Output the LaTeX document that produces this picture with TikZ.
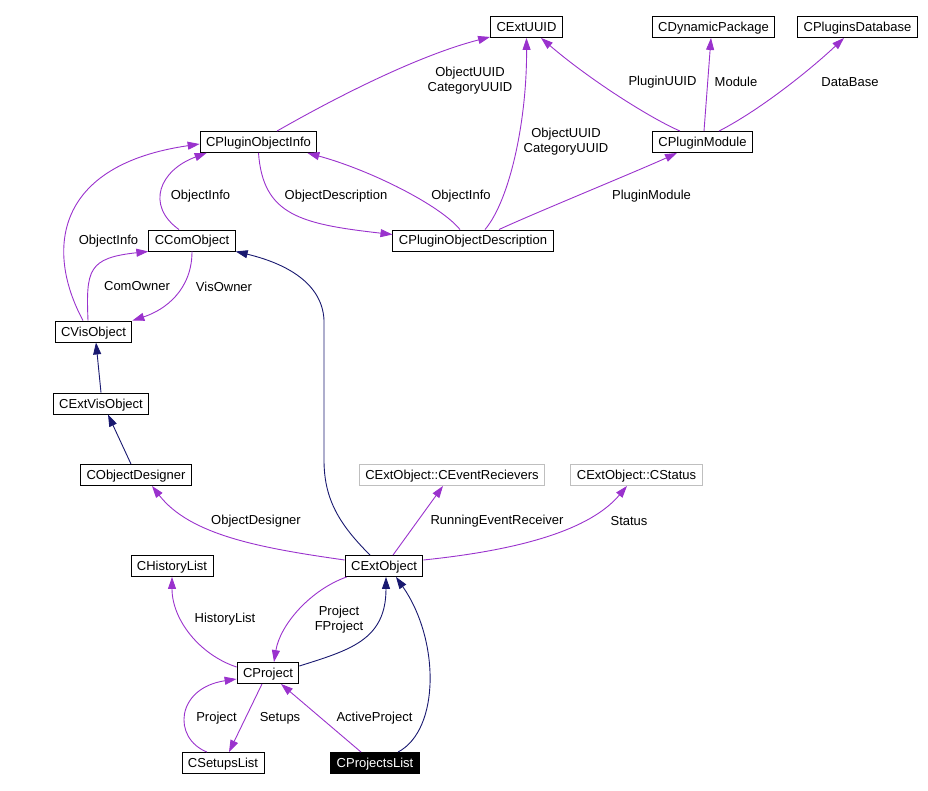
\documentclass[tikz,border=0pt]{standalone}
\usepackage{fontspec}
\setmainfont{Liberation Sans}
\usetikzlibrary{arrows.meta}
\definecolor{usecol}{HTML}{9A32CD}
\definecolor{inhcol}{HTML}{191970}
\definecolor{extcol}{HTML}{BFBFBF}

\begin{document}
\begin{tikzpicture}[x=1pt,y=-1pt,
    font=\fontsize{13}{15}\selectfont,
    cls/.style={draw=black,line width=0.9pt,minimum height=21pt,text height=11pt,text depth=2pt,inner xsep=6pt,inner ysep=0pt},
    extcls/.style={cls,draw=extcol},
    hlcls/.style={cls,fill=black,text=white},
    use/.style={draw=usecol,line width=0.9pt,-{Triangle[length=12pt,width=8pt]}},
    inh/.style={draw=inhcol,line width=0.9pt,-{Triangle[length=12pt,width=8pt]}},
    lbl/.style={align=center,inner sep=0pt}]
    \useasboundingbox (0,0) rectangle (928,791);

    \node[cls] (cextuuid) at (526.5,27) {CExtUUID};
    \node[cls] (cdynpkg) at (713.5,27) {CDynamicPackage};
    \node[cls] (cplugdb) at (857.5,27) {CPluginsDatabase};
    \node[cls] (cpoi) at (258.5,142) {CPluginObjectInfo};
    \node[cls] (cplugmod) at (702.5,142) {CPluginModule};
    \node[cls] (ccom) at (192,240.5) {CComObject};
    \node[cls] (cpod) at (473,240.5) {CPluginObjectDescription};
    \node[cls] (cvis) at (93.5,331.5) {CVisObject};
    \node[cls] (cextvis) at (101,403.5) {CExtVisObject};
    \node[cls] (cobjdes) at (136,475) {CObjectDesigner};
    \node[extcls] (cevrec) at (452,475) {CExtObject::CEventRecievers};
    \node[extcls] (cstatus) at (636.5,475) {CExtObject::CStatus};
    \node[cls] (chist) at (172,566) {CHistoryList};
    \node[cls] (cextobj) at (384,566) {CExtObject};
    \node[cls] (cproj) at (268,673) {CProject};
    \node[cls] (csetups) at (223,763) {CSetupsList};
    \node[hlcls] (cprojlist) at (375,763) {CProjectsList};

    \draw[use] ([xshift=18.5pt]cpoi.north) .. controls (340,95) and (420,55) .. ([yshift=1pt]cextuuid.south west);
    \draw[use] ([xshift=12pt]cpod.north) .. controls (510,200) and (527,120) .. (cextuuid.south);
    \draw[use] ([xshift=-22.5pt]cplugmod.north) .. controls (650,118) and (590,80) .. ([xshift=14.5pt]cextuuid.south);
    \draw[use] ([xshift=1.5pt]cplugmod.north) -- ([xshift=-2.5pt]cdynpkg.south);
    \draw[use] ([xshift=16.5pt]cplugmod.north) .. controls (760,110) and (810,70) .. ([xshift=-13.5pt]cplugdb.south);
    \draw[use] ([xshift=26pt]cpod.north) .. controls (530,215) and (640,170) .. ([xshift=-25.5pt]cplugmod.south);
    \draw[use] (cpoi.south) .. controls (263,215) and (300,224) .. ([yshift=6pt]cpod.west);
    \draw[use] ([xshift=-13pt]cpod.north) .. controls (440,205) and (370,170) .. ([xshift=-10pt]cpoi.south east);
    \draw[use] ([xshift=-13pt]ccom.north) .. controls (145,205) and (160,170) .. ([xshift=7pt]cpoi.south west);
    \draw[use] ([xshift=-10.5pt]cvis.north) .. controls (45,250) and (55,165) .. ([yshift=-2pt]cpoi.west);
    \draw[use] ([xshift=-5.5pt]cvis.north) .. controls (86,270) and (88,258) .. (ccom.south west);
    \draw[use] (ccom.south) .. controls (192,290) and (165,310) .. (cvis.north east);
    \draw[use] ([yshift=6pt]cextobj.west) .. controls (260,548) and (190,535) .. ([xshift=16pt]cobjdes.south);
    \draw[use] ([xshift=9pt]cextobj.north) -- ([xshift=-9pt]cevrec.south);
    \draw[use] ([yshift=6pt]cextobj.east) .. controls (520,550) and (590,530) .. ([xshift=-9.5pt]cstatus.south);
    \draw[use] ([yshift=6pt]cproj.west) .. controls (200,655) and (172,620) .. (chist.south);
    \draw[use] ([xshift=2pt]cextobj.south west) .. controls (310,590) and (280,625) .. ([xshift=6pt]cproj.north);
    \draw[use] ([xshift=-6pt]cproj.south) -- ([xshift=6pt]csetups.north);
    \draw[use] ([xshift=-16pt]csetups.north) .. controls (172,738) and (176,688) .. ([yshift=-6pt]cproj.west);
    \draw[use] ([xshift=-14pt]cprojlist.north) -- ([xshift=13pt]cproj.south);

    \draw[inh] (cextvis.north) -- ([xshift=2.5pt]cvis.south);
    \draw[inh] ([xshift=-5pt]cobjdes.north) -- ([xshift=7pt]cextvis.south);
    \draw[inh] ([xshift=-14pt]cextobj.north) .. controls (340,525) and (324,500) .. (324,460) -- (324,320) .. controls (322,280) and (280,262) .. (ccom.south east);
    \draw[inh] ([yshift=7pt]cproj.east) .. controls (350,650) and (386,640) .. ([xshift=2pt]cextobj.south);
    \draw[inh] ([xshift=23pt]cprojlist.north) .. controls (440,730) and (440,640) .. ([xshift=12pt]cextobj.south);

    \node[lbl] (l-uuid1) at (470,81) {ObjectUUID\\CategoryUUID};
    \node[lbl] (l-uuid2) at (566,142) {ObjectUUID\\CategoryUUID};
    \node[lbl] (l-pluguuid) at (662.5,82) {PluginUUID};
    \node[lbl] (l-module) at (736,82) {Module};
    \node[lbl] (l-database) at (850,82) {DataBase};
    \node[lbl] (l-plugmod) at (651.5,196) {PluginModule};
    \node[lbl] (l-objdesc) at (336,196) {ObjectDescription};
    \node[lbl] (l-objinfo1) at (461,196) {ObjectInfo};
    \node[lbl] (l-objinfo2) at (200.5,196) {ObjectInfo};
    \node[lbl] (l-objinfo3) at (108.5,241.5) {ObjectInfo};
    \node[lbl] (l-comowner) at (137,286.5) {ComOwner};
    \node[lbl] (l-visowner) at (224,286.5) {VisOwner};
    \node[lbl] (l-objdes) at (256,521.5) {ObjectDesigner};
    \node[lbl] (l-runev) at (497,521.5) {RunningEventReceiver};
    \node[lbl] (l-status) at (629,521.5) {Status};
    \node[lbl] (l-hist) at (225,619) {HistoryList};
    \node[lbl] (l-proj) at (339,619.5) {Project\\FProject};
    \node[lbl] (l-setups) at (280,718) {Setups};
    \node[lbl] (l-proj2) at (216.5,718) {Project};
    \node[lbl] (l-active) at (374.5,718) {ActiveProject};
\end{tikzpicture}
\end{document}
